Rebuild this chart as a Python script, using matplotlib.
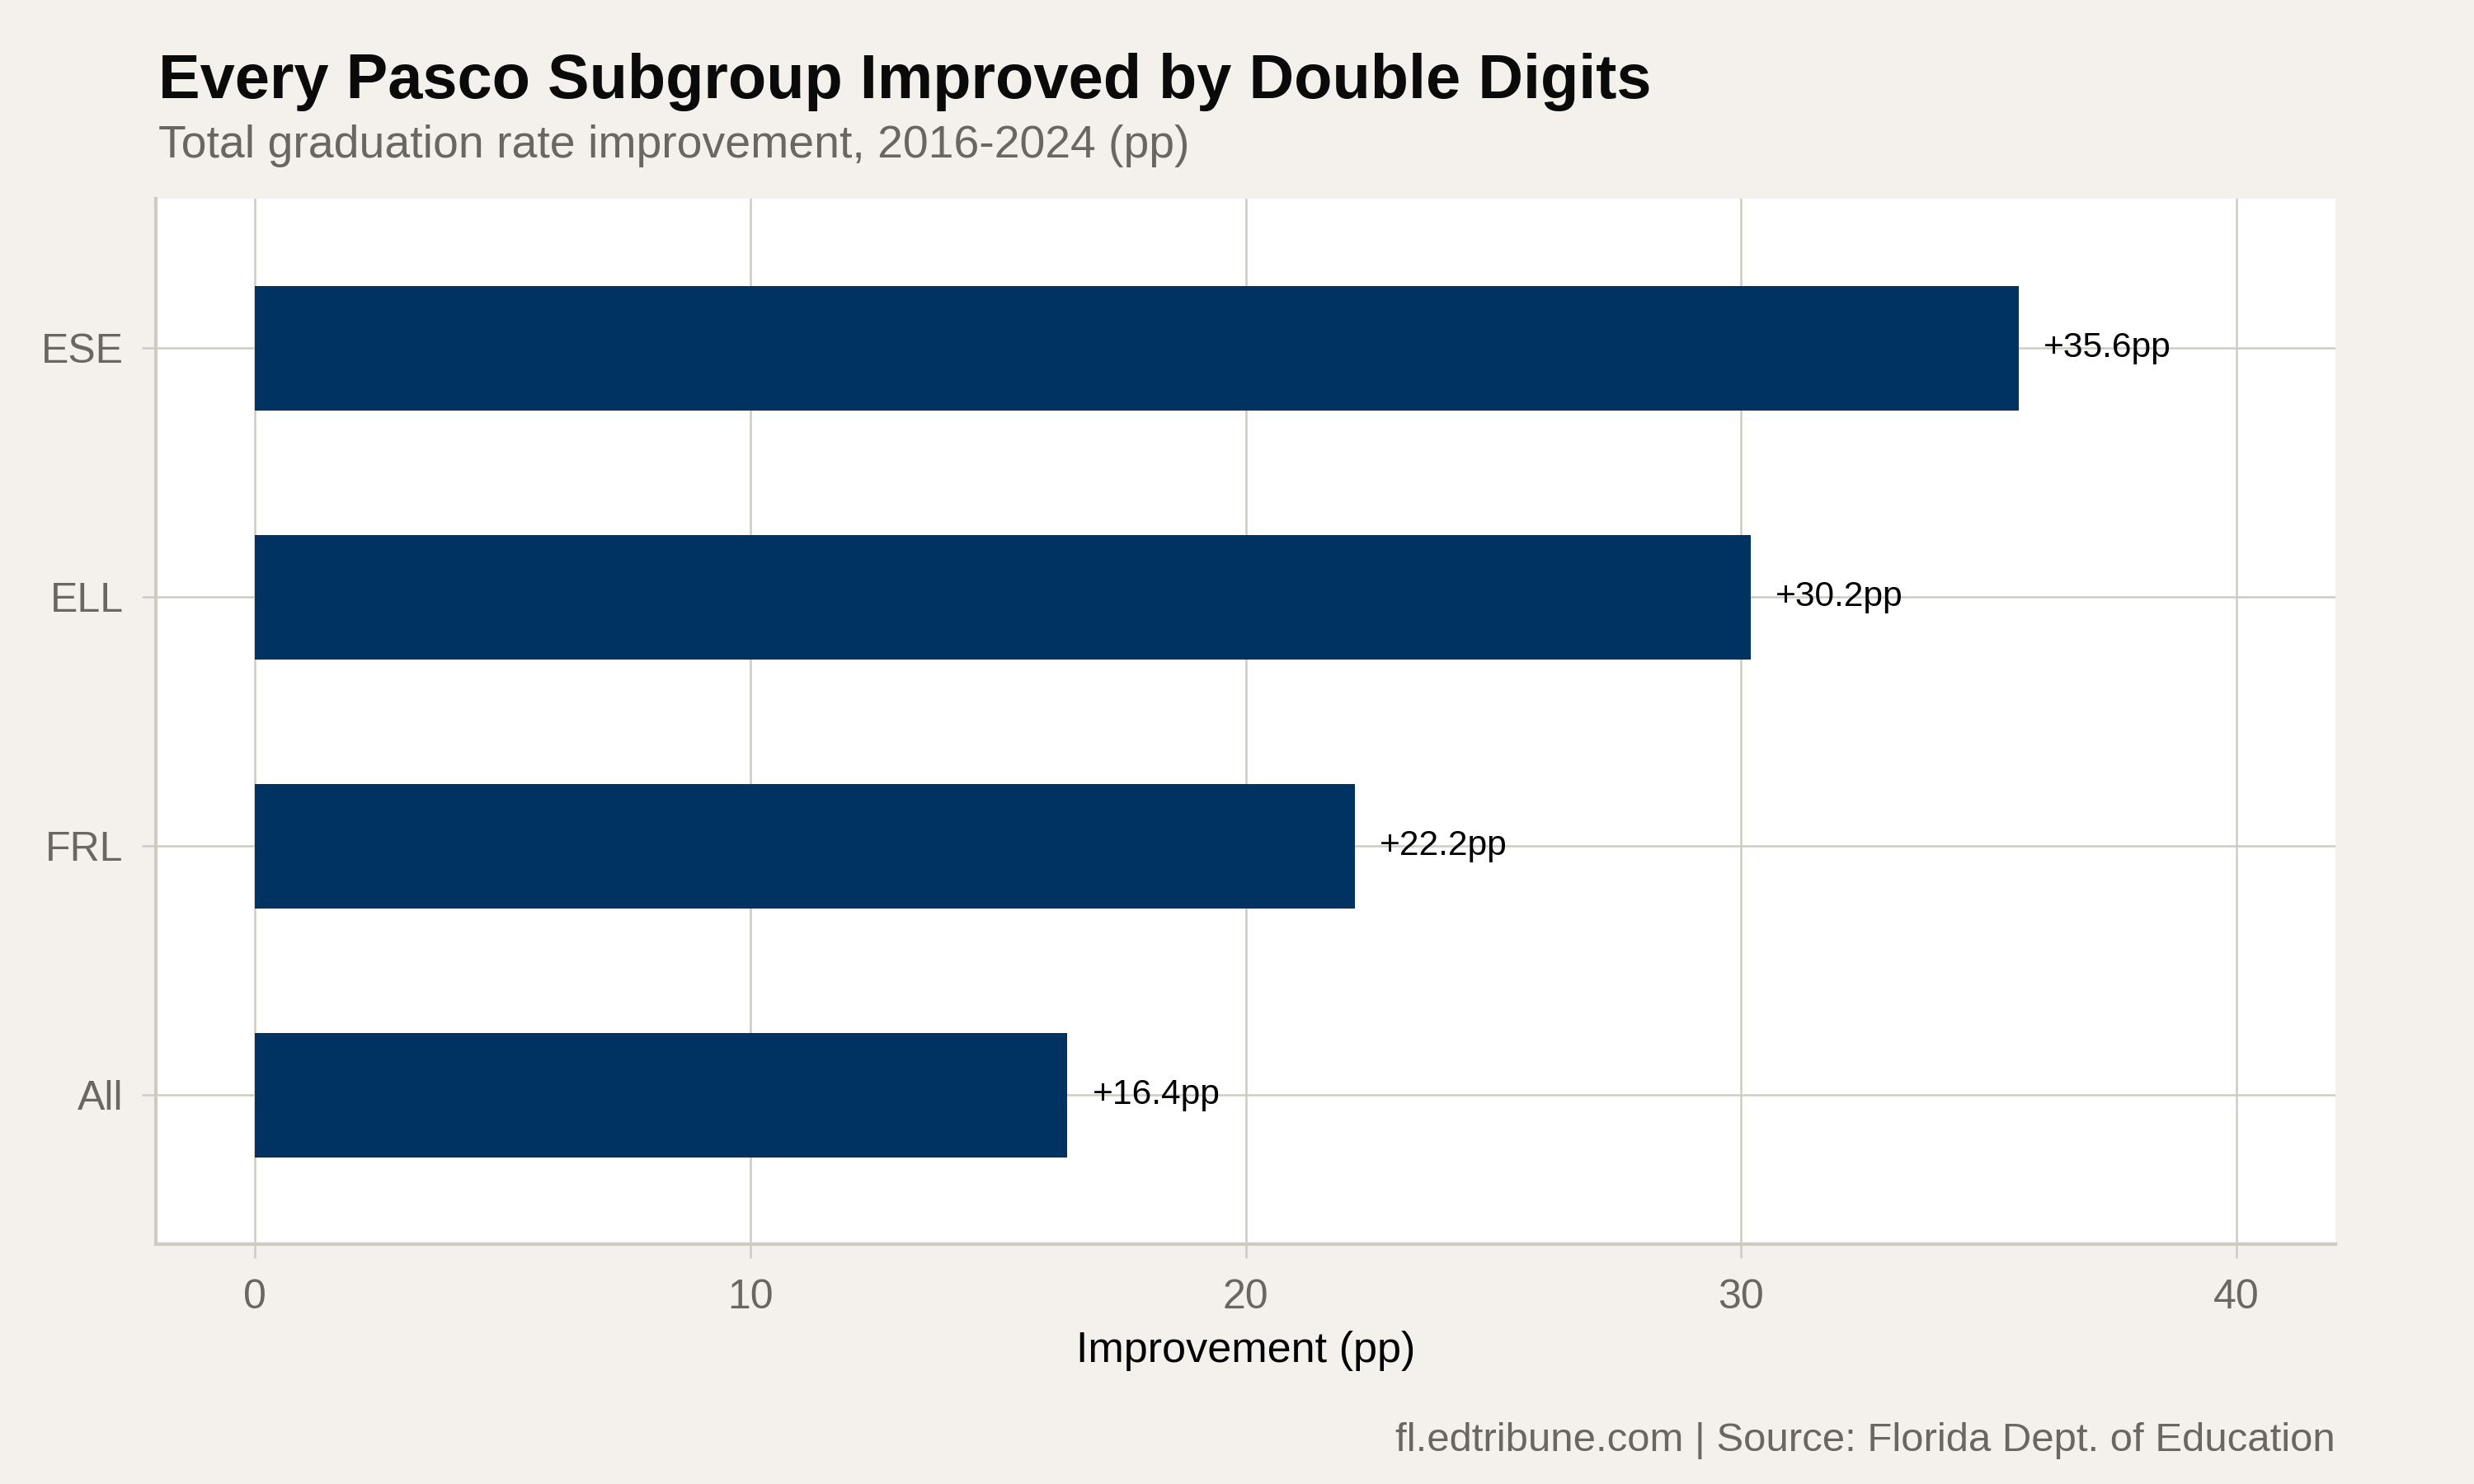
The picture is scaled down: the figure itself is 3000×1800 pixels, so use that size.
import matplotlib.pyplot as plt

plt.rcParams['font.family'] = ['Liberation Sans', 'DejaVu Sans']

groups = ['All', 'FRL', 'ELL', 'ESE']
gains = [16.4, 22.2, 30.2, 35.6]
xticks = [0, 10, 20, 30, 40]

bg = '#f4f1ec'
grid_col = '#cfcac2'
gray_txt = '#6b6660'
bar_col = '#003262'

fig = plt.figure(figsize=(10, 6), dpi=300, facecolor=bg)
ax = fig.add_axes([0.0631, 0.1615, 0.8809, 0.7046])
ax.set_facecolor('white')

ypos = range(1, len(groups) + 1)
ax.barh(ypos, gains, height=0.5, color=bar_col, zorder=3)
for y, v in zip(ypos, gains):
    ax.text(v + 0.5, y, f'+{v}pp', va='center', ha='left', fontsize=10.2,
            color='black', zorder=4)

ax.set_xlim(-2, 42)
ax.set_ylim(0.4, len(groups) + 0.6)
ax.set_xticks(xticks)
ax.set_yticks(list(ypos))
ax.set_yticklabels(groups)
ax.grid(True, color=grid_col, linewidth=0.6, zorder=0)
ax.tick_params(colors=grid_col, labelcolor=gray_txt, labelsize=12, length=4, width=0.6)
ax.tick_params(axis='x', pad=6)
ax.tick_params(axis='y', pad=5.5)

for s in ['top', 'right']:
    ax.spines[s].set_visible(False)
for s in ['left', 'bottom']:
    ax.spines[s].set_color(grid_col)
    ax.spines[s].set_linewidth(1.0)

ax.set_xlabel('Improvement (pp)', fontsize=12.5, color='black', labelpad=4)

fig.text(0.064, 0.934, 'Every Pasco Subgroup Improved by Double Digits',
         fontsize=18.2, fontweight='bold', color='#0a0a0a')
fig.text(0.064, 0.894, 'Total graduation rate improvement, 2016-2024 (pp)',
         fontsize=13.3, color=gray_txt)
fig.text(0.944, 0.022, 'fl.edtribune.com | Source: Florida Dept. of Education',
         fontsize=11.8, color=gray_txt, ha='right')

fig.savefig('out.png', dpi=300, facecolor=bg)
